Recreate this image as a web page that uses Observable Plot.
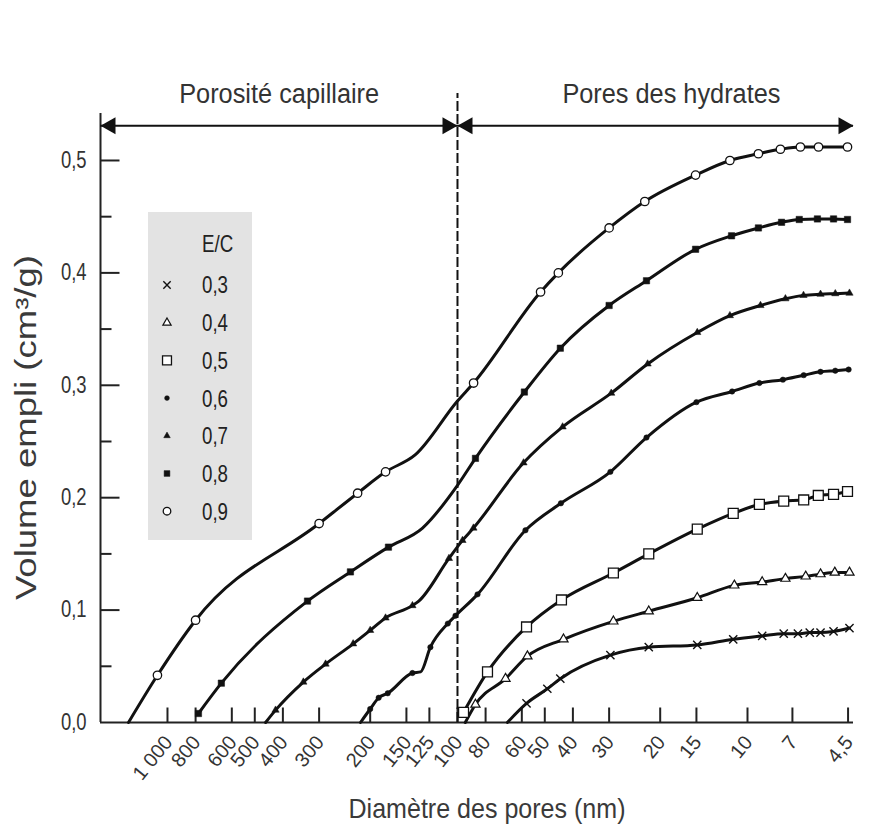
<!DOCTYPE html>
<html><head><meta charset="utf-8">
<script src="https://cdn.jsdelivr.net/npm/d3@7"></script>
<script src="https://cdn.jsdelivr.net/npm/@observablehq/plot@0.6"></script>
<style>
body{margin:0;background:#fff;}
svg text{font-family:"Liberation Sans", Arial, Helvetica, sans-serif;}
</style></head><body><div id="chart"></div>
<script>
// ---- data (diameter nm, volume cm3/g, 1 = measured point with marker) ----
const seriesLabels = ["0,3","0,4","0,5","0,6","0,7","0,8","0,9"];
const s03 = [[67.3,0,0],[57.8,0.017,1],[49.0,0.030,1],[44.2,0.039,1],[29.7,0.060,1],[21.9,0.067,1],[14.9,0.069,1],[11.2,0.074,1],[8.9,0.077,1],[7.5,0.079,1],[6.7,0.079,1],[6.1,0.080,1],[5.6,0.080,1],[5.05,0.081,1],[4.45,0.084,1]];
const s04 = [[94,0,0],[86.7,0.016,1],[68.3,0.039,1],[57.4,0.059,1],[43.1,0.074,1],[29.0,0.090,1],[21.9,0.099,1],[14.9,0.111,1],[11.1,0.122,1],[8.9,0.125,1],[7.4,0.128,1],[6.3,0.130,1],[5.6,0.132,1],[5.0,0.1335,1],[4.45,0.1335,1]];
const s05 = [[95.3,0.009,1],[78.8,0.045,1],[57.8,0.085,1],[43.8,0.109,1],[29.0,0.133,1],[21.9,0.150,1],[14.9,0.172,1],[11.2,0.186,1],[9.1,0.194,1],[7.5,0.197,1],[6.4,0.198,1],[5.7,0.202,1],[5.05,0.203,1],[4.52,0.2055,1]];
const s06 = [[216,0,0],[200,0.012,1],[187,0.022,1],[174,0.026,1],[143,0.044,1],[134,0.045,0],[124,0.067,1],[108,0.088,1],[101.6,0.095,1],[85.3,0.114,1],[58.3,0.171,1],[44.0,0.195,1],[29.7,0.223,1],[22.3,0.2535,1],[15.0,0.285,1],[11.3,0.2945,1],[9.1,0.302,1],[7.55,0.305,1],[6.4,0.309,1],[5.6,0.312,1],[4.98,0.313,1],[4.48,0.314,1]];
const s07 = [[459,0,0],[424,0.011,1],[340,0.036,1],[285,0.052,1],[229,0.070,1],[200,0.082,1],[177,0.093,1],[143,0.104,1],[136,0.108,0],[107,0.146,1],[96.1,0.162,1],[88.1,0.173,1],[59.2,0.231,1],[43.4,0.263,1],[29.5,0.293,1],[22.1,0.319,1],[14.9,0.347,1],[11.5,0.362,1],[9.02,0.371,1],[7.4,0.377,1],[6.41,0.380,1],[5.6,0.381,1],[4.98,0.3815,1],[4.45,0.382,1]];
const s08 = [[782,0.008,1],[652,0.035,1],[329,0.108,1],[234,0.134,1],[173,0.156,1],[132,0.173,0],[100,0.211,0],[86.7,0.235,1],[58.8,0.294,1],[44.2,0.333,1],[30,0.371,1],[22.3,0.393,1],[15.1,0.421,1],[11.35,0.433,1],[9.17,0.440,1],[7.63,0.445,1],[6.63,0.4475,1],[5.74,0.448,1],[5.05,0.448,1],[4.52,0.4475,1]];
const s09 = [[1363,0,0],[1083,0.042,1],[800,0.091,1],[300,0.177,1],[221,0.204,1],[177,0.223,1],[140,0.238,0],[100,0.286,0],[88,0.302,1],[51.7,0.383,1],[44.9,0.400,1],[30,0.440,1],[22.6,0.4635,1],[15.1,0.487,1],[11.5,0.500,1],[9.17,0.506,1],[7.7,0.510,1],[6.57,0.512,1],[5.69,0.512,1],[4.52,0.512,1]];
const seriesPoints = [s03, s04, s05, s06, s07, s08, s09];

const xTicks = [1000,800,600,500,400,300,200,150,125,100,80,60,50,40,30,20,15,10,7,4.5];
const yMajor = [0,0.1,0.2,0.3,0.4,0.5];
const yMinor = [0.05,0.15,0.25,0.35,0.45];
const regionTitles = ["Porosité capillaire","Pores des hydrates"];
const xLabel = "Diamètre des pores (nm)";
const yLabel = "Volume empli (cm³/g)";
const legendTitle = "E/C";

// ---- styles ----
const markerStyle = {
  "0,3": {symbol:"times", r:3.8, fill:"none", stroke:"#111", sw:1.4},
  "0,4": {symbol:"triangle", r:3.4, fill:"#fff", stroke:"#111", sw:1.2},
  "0,5": {symbol:"square", r:5.6, fill:"#fff", stroke:"#111", sw:1.3},
  "0,6": {symbol:"circle", r:2.7, fill:"#111", stroke:"#111", sw:0.5},
  "0,7": {symbol:"triangle", r:2.7, fill:"#111", stroke:"#111", sw:0.5},
  "0,8": {symbol:"square", r:3.6, fill:"#111", stroke:"#111", sw:0.5},
  "0,9": {symbol:"circle", r:4.2, fill:"#fff", stroke:"#111", sw:1.3}
};
// annotation anchors (data units)
const xLeftEdge = 1702, xRightEdge = 4.31, yTop = 0.5418;
const arrowLevel = 0.531, splitAt = 100, dashedTop = 0.5596;
const titleX = [412, 18.3], titleLevel = 0.5507;

const rows = seriesLabels.flatMap((label, i) => seriesPoints[i].map(([d, v, m]) => ({label, d, v, m})));

const fmtX = d => d === 1000 ? "1 000" : String(d).replace(".", ",");
const fmtY = d => d.toFixed(1).replace(".", ",");

const tickRight = (len) => ({draw(ctx){ctx.moveTo(0,0); ctx.lineTo(len,0);}});
const tickUp = (len) => ({draw(ctx){ctx.moveTo(0,0); ctx.lineTo(0,-len);}});
const headLeft = {draw(ctx){ctx.moveTo(0,0); ctx.lineTo(15,-8.5); ctx.lineTo(15,8.5); ctx.closePath();}};
const headRight = {draw(ctx){ctx.moveTo(0,0); ctx.lineTo(-15,-8.5); ctx.lineTo(-15,8.5); ctx.closePath();}};

const marks = [
  Plot.ruleY([0], {x1: xLeftEdge, x2: xRightEdge, stroke: "#222", strokeWidth: 2}),
  Plot.ruleX([xLeftEdge], {y1: 0, y2: yTop, stroke: "#222", strokeWidth: 2}),
  Plot.dot(yMajor.slice(1), {x: xLeftEdge, y: d => d, symbol: tickRight(19), stroke: "#222", strokeWidth: 2}),
  Plot.dot(yMinor, {x: xLeftEdge, y: d => d, symbol: tickRight(11), stroke: "#222", strokeWidth: 2}),
  Plot.dot(xTicks, {x: d => d, y: 0, symbol: tickUp(15), stroke: "#222", strokeWidth: 2}),
  // tick labels
  Plot.text(yMajor, {x: xLeftEdge, y: d => d, text: fmtY, textAnchor: "end", lineAnchor: "middle", dx: -14, fontSize: 23, fill: "#333"}),
  Plot.text(xTicks, {x: d => d, y: 0, text: fmtX, textAnchor: "end", lineAnchor: "middle", rotate: -51, dx: 1, dy: 16, fontSize: 20, fill: "#333"}),
  Plot.ruleX([splitAt], {y1: 0, y2: dashedTop, stroke: "#111", strokeWidth: 2, strokeDasharray: "10,3"}),
  Plot.ruleY([arrowLevel], {x1: xLeftEdge, x2: xRightEdge, stroke: "#111", strokeWidth: 2}),
  Plot.dot([xLeftEdge, splitAt], {x: d => d, y: arrowLevel, symbol: headLeft, fill: "#111", stroke: "none"}),
  Plot.dot([splitAt, xRightEdge], {x: d => d, y: arrowLevel, symbol: headRight, fill: "#111", stroke: "none"}),
  Plot.text(regionTitles, {x: (d, i) => titleX[i], y: titleLevel, text: d => d, lineAnchor: "bottom", fontSize: 27, fill: "#333"}),
  Plot.text([xLabel], {frameAnchor: "bottom", dy: 95, dx: 10, text: d => d, lineAnchor: "bottom", fontSize: 28, fill: "#3a3a3a"}),
  Plot.line(rows, {x: "d", y: "v", z: "label", curve: "monotone-x", stroke: "#111", strokeWidth: 3}),
  ...seriesLabels.map(label => {
    const s = markerStyle[label];
    return Plot.dot(rows.filter(r => r.label === label && r.m), {x: "d", y: "v", symbol: s.symbol, r: s.r, fill: s.fill, stroke: s.stroke, strokeWidth: s.sw});
  })
];

const svg = Plot.plot({
  width: 881, height: 830,
  marginLeft: 100, marginRight: 28, marginTop: 113, marginBottom: 108,
  style: {background: "#fff", color: "#333", fontFamily: "Liberation Sans, Arial, sans-serif"},
  x: {type: "log", domain: [xLeftEdge, xRightEdge], axis: null},
  y: {domain: [0, yTop], axis: null},
  marks
});
document.getElementById("chart").append(svg);

function squish(el, factor, target) {
  const w = target ?? el.getComputedTextLength() * factor;
  el.setAttribute("textLength", w.toFixed(1));
  el.setAttribute("lengthAdjust", "spacingAndGlyphs");
}
svg.querySelectorAll("text").forEach(t => {
  const s = t.textContent;
  if (s === regionTitles[0]) squish(t, 0, 200);
  else if (s === regionTitles[1]) squish(t, 0, 218);
  else if (s === xLabel) squish(t, 0, 277);
  else if (/^0,\d$/.test(s)) squish(t, 0.8);
});

// ---- y axis title (rotated) ----
d3.select(svg).append("text")
  .attr("transform", "translate(36,600) rotate(-90)")
  .attr("text-anchor", "start").attr("fill", "#3a3a3a")
  .style("font-size", "29px").attr("textLength", 345).attr("lengthAdjust", "spacingAndGlyphs")
  .text(yLabel);

// ---- legend (inside plot area) ----
const symbolTypes = {times: d3.symbolTimes, triangle: d3.symbolTriangle, square: d3.symbolSquare, circle: d3.symbolCircle};
const lg = d3.select(svg).append("g").attr("aria-label", "legend");
lg.append("rect").attr("x", 148).attr("y", 212).attr("width", 104).attr("height", 328).attr("fill", "#e3e3e3");
const et = lg.append("text").attr("x", 202).attr("y", 252).attr("text-anchor", "start").attr("fill", "#222").style("font-size", "24px").text(legendTitle);
squish(et.node(), 0.78);
seriesLabels.forEach((label, i) => {
  const s = markerStyle[label];
  const yy = 285 + i * 37.7;
  const r = s.r * 0.9;
  lg.append("path").attr("transform", `translate(167,${yy})`)
    .attr("d", d3.symbol(symbolTypes[s.symbol], Math.PI * r * r)())
    .attr("fill", s.fill).attr("stroke", s.stroke).attr("stroke-width", s.sw);
  const t = lg.append("text").attr("x", 202).attr("y", yy).attr("dy", "0.35em").attr("text-anchor", "start").attr("fill", "#222").style("font-size", "24px").text(label);
  squish(t.node(), 0.78);
});
</script></body></html>
